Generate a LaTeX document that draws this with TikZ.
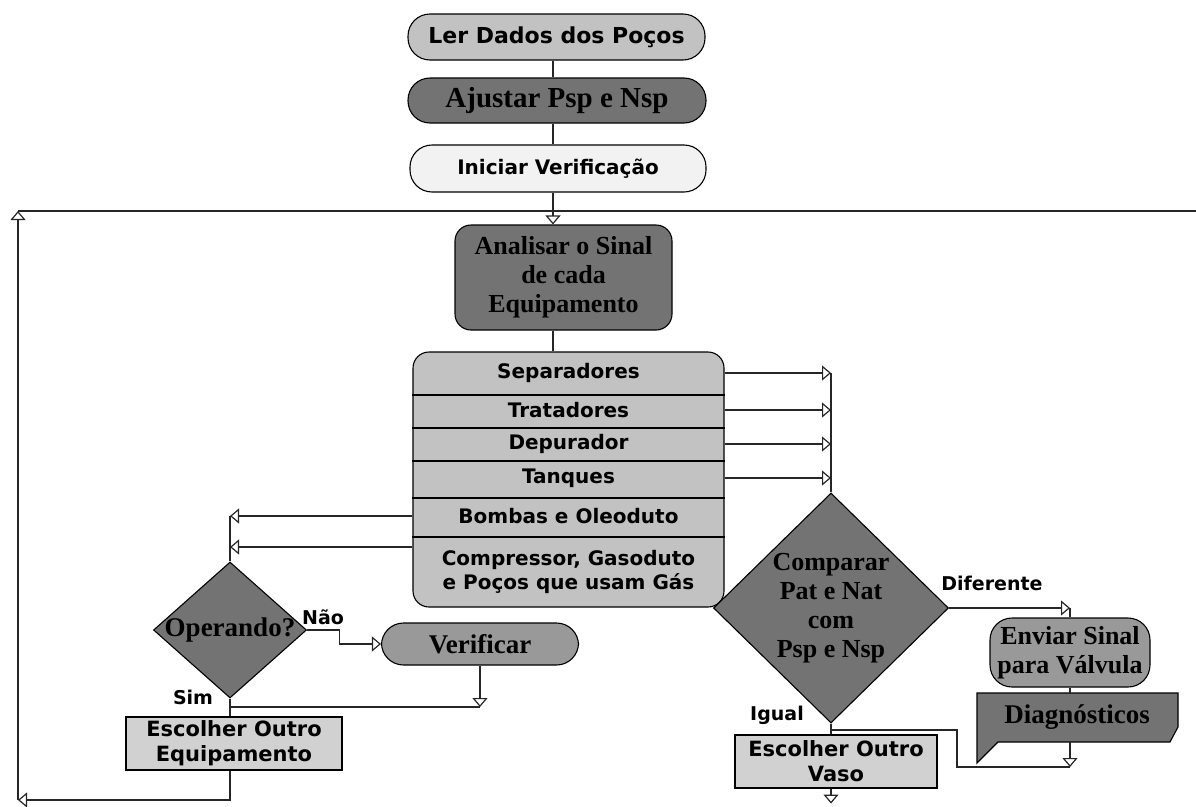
\documentclass[tikz,border=0pt]{standalone}
\usepackage{fontspec}
\setmainfont{DejaVu Sans}
\newfontfamily\serfam{Liberation Serif}
\usetikzlibrary{arrows.meta,shapes.geometric}

\definecolor{lightfill}{gray}{0.76}
\definecolor{palefill}{gray}{0.95}
\definecolor{boxfill}{gray}{0.82}
\definecolor{midfill}{gray}{0.60}
\definecolor{darkfill}{gray}{0.45}

\tikzset{
  conn/.style={draw=black!85, line width=1.1pt},
  arr/.style={conn, -{Triangle[open,length=9pt,width=15pt,line width=1.2pt]}},
  box/.style={draw=black, line width=1.1pt, align=center, inner sep=0pt},
  pill/.style={box, rounded corners=22pt},
  dia/.style={box, diamond, fill=darkfill},
  sanstxt/.style={font=\fontsize{20}{24}\selectfont\bfseries, align=center, inner sep=0pt},
  seriftxt/.style={font=\fontsize{26}{29}\selectfont\serfam\bfseries, align=center, inner sep=0pt},
  lbl/.style={font=\fontsize{19}{22}\selectfont\bfseries, inner sep=0pt},
}

\begin{document}
\begin{tikzpicture}[x=1pt,y=-1pt]
\useasboundingbox (0,0) rectangle (1196,806);

% start-up sequence
\node[pill, fill=lightfill, minimum width=297, minimum height=46,
      font=\fontsize{22}{26}\selectfont\bfseries] (ler) at (556.5,37) {Ler Dados dos Poços};
\node[pill, fill=darkfill, minimum width=298, minimum height=45,
      font=\fontsize{29}{32}\selectfont\serfam\bfseries] (ajustar) at (557,100.5) {Ajustar Psp e Nsp};
\node[pill, fill=palefill, minimum width=296, minimum height=47, sanstxt] (iniciar) at (558,168.5) {Iniciar Verificação};
\node[box, rounded corners=16pt, fill=darkfill, minimum width=217, minimum height=105, seriftxt]
      (analisar) at (563.5,277.5) {Analisar o Sinal\\de cada\\Equipamento};

% equipment list
\node[box, rounded corners=16pt, fill=lightfill, minimum width=311, minimum height=255] (lst) at (568.5,479.5) {};
\foreach \y in {395,428,461,498,537}
  \draw[line width=1.1pt] (lst.west |- 0,\y) -- (lst.east |- 0,\y);
\node[sanstxt] (r1) at (568.5,373) {Separadores};
\node[sanstxt] (r2) at (568.5,410) {Tratadores};
\node[sanstxt] (r3) at (568.5,444) {Depurador};
\node[sanstxt] (r4) at (568.5,478) {Tanques};
\node[sanstxt] (r5) at (568.5,516) {Bombas e Oleoduto};
\node[sanstxt] (r6) at (568.5,572) {Compressor, Gasoduto\\e Poços que usam Gás};

% decisions and actions
\node[dia, minimum width=153, minimum height=136,
      label={[font=\fontsize{27}{30}\selectfont\serfam\bfseries]center:Operando?}] (op) at (230,630) {};
\node[pill, fill=midfill, minimum width=197, minimum height=42,
      font=\fontsize{27}{30}\selectfont\serfam\bfseries] (verif) at (480,644) {Verificar};
\node[box, fill=boxfill, minimum width=216, minimum height=53,
      font=\fontsize{21}{25}\selectfont\bfseries] (eq) at (234,743.5) {Escolher Outro\\Equipamento};

\node[dia, minimum width=235, minimum height=230,
      label={[seriftxt]center:Comparar\\Pat e Nat\\com\\Psp e Nsp}] (cmp) at (831,608) {};
\node[box, fill=boxfill, minimum width=202, minimum height=53,
      font=\fontsize{21}{25}\selectfont\bfseries] (vaso) at (836,761.5) {Escolher Outro\\Vaso};
\node[box, rounded corners=22pt, fill=midfill, minimum width=160, minimum height=69, seriftxt]
      (enviar) at (1070,652.5) {Enviar Sinal\\para Válvula};

% diagnostics callout
\filldraw[fill=darkfill, draw=black, line width=1.1pt]
  (977,693) -- (1178,693) -- (1178,727) -- (1170,742) -- (998,742) -- (977,763) -- cycle;
\node[font=\fontsize{27}{30}\selectfont\serfam\bfseries, minimum width=201, minimum height=49, inner sep=0pt]
      (diag) at (1077,717.5) {Diagnósticos};

% branch labels
\node[lbl] (lnao) at (323,617) {Não};
\node[lbl] (lsim) at (193,697) {Sim};
\node[lbl] (ligual) at (777,715) {Igual};
\node[lbl] (ldif) at (992,583) {Diferente};

% junction points
\coordinate (sp) at (553,0);
\coordinate (bl) at (18,800);
\coordinate (tl) at (18,211);
\coordinate (tr) at (1196,211);
\coordinate (jv) at (480,707);
\coordinate (jd) at (1070,767);
\coordinate (jk) at (957,730);

% main spine
\draw[conn] (ler.south -| sp) -- (ajustar.north -| sp);
\draw[conn] (ajustar.south -| sp) -- (iniciar.north -| sp);
\draw[arr] (iniciar.south -| sp) -- (analisar.north -| sp);
\draw[conn] (analisar.south -| sp) -- (lst.north -| sp);

% return loop
\draw[arr] (eq.south -| op.south) |- (bl);
\draw[arr] (bl) -- (tl);
\draw[conn] (tl) -- (tr);

% vessels to comparison
\foreach \r in {r1,r2,r3,r4}
  \draw[arr] (\r -| lst.east) -- (\r -| cmp.north);
\draw[conn] (r1 -| cmp.north) -- (cmp.north);

% pumps and compressors to operating check
\draw[arr] (r5 -| lst.west) -- (r5 -| op.north);
\draw[arr] (lst.west |- 0,547) -- (op.north |- 0,547);
\draw[conn] (r5 -| op.north) -- (op.north);

% operating check branches
\draw[arr] (op.east) -- ++(32,0) |- (verif.west);
\draw[arr] (verif.south) -- (jv);
\draw[conn] (jv) -- (jv -| op.south);
\draw[conn] (op.south) -- (op.south |- eq.north);

% comparison branches
\draw[arr] (cmp.east) -- (cmp.east -| enviar.north);
\draw[conn] (cmp.east -| enviar.north) -- (enviar.north);
\draw[conn] (enviar.south) -- (enviar.south |- diag.north);
\draw[arr] (enviar.south |- diag.south) -- (jd);
\draw[conn] (jd) -| (jk) -- (jk -| cmp.south);
\draw[conn] (cmp.south) -- (cmp.south |- vaso.north);
\draw[arr] (cmp.south |- vaso.south) -- ++(0,15);
\end{tikzpicture}
\end{document}
